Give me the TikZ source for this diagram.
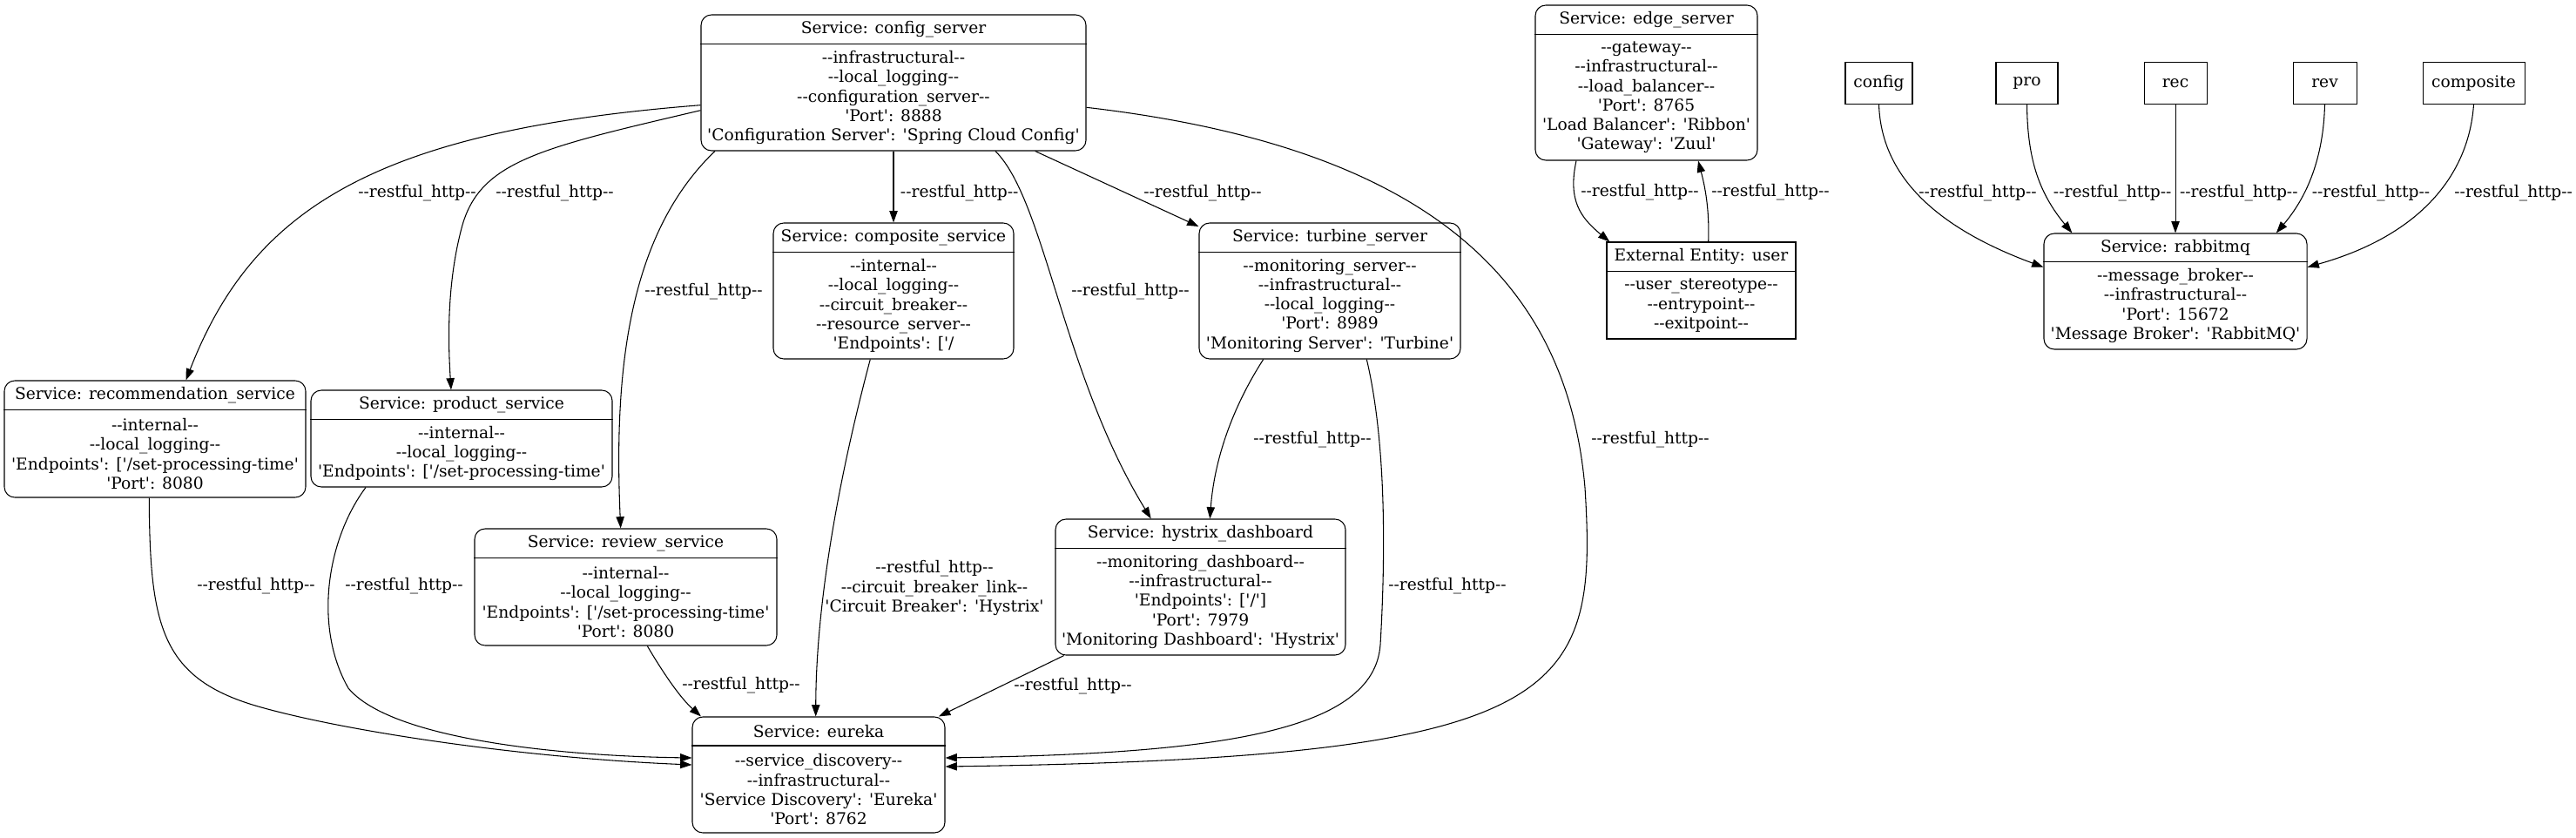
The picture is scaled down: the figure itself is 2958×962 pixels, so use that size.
\documentclass[tikz,border=0pt]{standalone}
\usepackage{fontspec}
\setmainfont{DejaVu Serif}[Ligatures=TeXOff]
\usetikzlibrary{arrows.meta,fit,calc}
\tikzset{
  x=0.75pt, y=-0.75pt,
  txt/.style={inner sep=0pt, font=\fontsize{14}{16.7}\selectfont},
  svc/.style={draw, rounded corners=9pt, inner sep=0pt, line width=0.8pt},
  ent/.style={draw, inner sep=0pt, line width=0.8pt},
  small/.style={ent, txt, minimum height=35.7pt},
  flow/.style={draw, line width=0.8pt, -{Triangle[length=10pt,width=7pt]}},
  lbl/.style={txt, align=center},
}
\newcommand{\dfdbox}[9]{%
  \node[#9, fit={(#2,#3) (#4,#5)}] (#1) {};
  \coordinate (#1s) at (0,#6);
  \draw[line width=0.8pt] (#1.west |- #1s) -- (#1.east |- #1s);
  \node[txt] (#1h) at ($(#1.north)!0.5!(#1.north |- #1s)$) {#7};
  \node[txt, align=center] (#1b) at ($(#1.south)!0.5!(#1.south |- #1s)$) {#8};
}
\begin{document}
\begin{tikzpicture}
\useasboundingbox (0,0) rectangle (2958,962);

\dfdbox{cfg}{805}{17}{1247}{173}{50.7}{Service: config\_server}{--infrastructural--\\--local\_logging--\\--configuration\_server--\\'Port': 8888\\'Configuration Server': 'Spring Cloud Config'}{svc}
\dfdbox{edgesrv}{1763}{6}{2018}{184}{39.3}{Service: edge\_server}{--gateway--\\--infrastructural--\\--load\_balancer--\\'Port': 8765\\'Load Balancer': 'Ribbon'\\'Gateway': 'Zuul'}{svc}
\dfdbox{user}{1845}{278}{2062}{389}{311.7}{External Entity: user}{--user\_stereotype--\\--entrypoint--\\--exitpoint--}{ent}
\dfdbox{rabbit}{2347}{268}{2649}{401}{300.3}{Service: rabbitmq}{--message\_broker--\\--infrastructural--\\'Port': 15672\\'Message Broker': 'RabbitMQ'}{svc}
\dfdbox{rec}{5}{437}{351}{571}{470.7}{Service: recommendation\_service}{--internal--\\--local\_logging--\\'Endpoints': ['/set-processing-time'\\'Port': 8080}{svc}
\dfdbox{prod}{357}{448}{703}{559}{481.7}{Service: product\_service}{--internal--\\--local\_logging--\\'Endpoints': ['/set-processing-time'}{svc}
\dfdbox{comp}{888}{256}{1164}{412}{289.3}{Service: composite\_service}{--internal--\\--local\_logging--\\--circuit\_breaker--\\--resource\_server--\\'Endpoints': ['/}{svc}
\dfdbox{turb}{1377}{256}{1677}{412}{289.3}{Service: turbine\_server}{--monitoring\_server--\\--infrastructural--\\--local\_logging--\\'Port': 8989\\'Monitoring Server': 'Turbine'}{svc}
\dfdbox{rev}{545}{607}{892}{741}{640.7}{Service: review\_service}{--internal--\\--local\_logging--\\'Endpoints': ['/set-processing-time'\\'Port': 8080}{svc}
\dfdbox{hyst}{1212}{596}{1545}{752}{629.3}{Service: hystrix\_dashboard}{--monitoring\_dashboard--\\--infrastructural--\\'Endpoints': ['/']\\'Port': 7979\\'Monitoring Dashboard': 'Hystrix'}{svc}
\dfdbox{eur}{795}{823}{1085}{956}{856}{Service: eureka}{--service\_discovery--\\--infrastructural--\\'Service Discovery': 'Eureka'\\'Port': 8762}{svc}

\node[small, minimum width=57.75pt] (bconfig) at (2157.5,95.5) {config};
\node[small, minimum width=53.25pt] (bpro) at (2327.5,95.5) {pro};
\node[small, minimum width=54pt] (brec) at (2498,95.5) {rec};
\node[small, minimum width=54.75pt] (brev) at (2669.5,95.5) {rev};
\node[small, minimum width=87.75pt] (bcomp) at (2840.5,95.5) {composite};

% connectors from config_server
\draw[flow] (cfg.west |- 0,120.7) .. controls (430,150) and (290,240) .. (rec.north -| 213.5,0);
\draw[flow] (cfg.west |- 0,126.7) .. controls (620,170) and (550,185) .. (530,262) .. controls (512,330) and (515,400) .. (prod.north -| 518,0);
\draw[flow] (cfg.south -| 821,0) .. controls (720,270) and (705,430) .. (rev.north -| 712.7,0);
\draw[flow] (cfg.south -| comp.north) -- (comp.north);
\draw[flow] (cfg.south -| 1143,0) .. controls (1200,230) and (1220,430) .. (hyst.north -| 1321.7,0);
\draw[flow] (cfg.south -| 1188.7,0) -- (turb.west |- 0,260);
\draw[flow] (cfg.east |- 0,123.3) .. controls (1650,170) and (1800,330) .. (1820,560) .. controls (1835,800) and (1800,870) .. (eur.east |- 0,880);

% turbine
\draw[flow] (turb.south -| 1450.7,0) .. controls (1420,460) and (1395,520) .. (hyst.north -| 1389.3,0);
\draw[flow] (turb.south -| 1569.3,0) .. controls (1590,500) and (1592,620) .. (1585,740) .. controls (1578,840) and (1400,865) .. (eur.east |- 0,870);

% into eureka
\draw[flow] (comp.south -| 999.3,0) .. controls (960,560) and (937,700) .. (eur.north -| 936.7,0);
\draw[flow] (rev.south -| 743.3,0) .. controls (760,770) and (780,800) .. (eur.north -| 805,0);
\draw[flow] (hyst.south -| 1221.7,0) -- (eur.north -| 1078,0);
\draw[flow] (rec.south -| 171.3,0) .. controls (172,720) and (185,780) .. (300,812) .. controls (400,840) and (600,870) .. (eur.west |- 0,878);
\draw[flow] (prod.south -| 420,0) .. controls (375,620) and (360,720) .. (400,790) .. controls (450,850) and (650,868) .. (eur.west |- 0,870);

% edge server / user
\draw[flow] (edgesrv.south -| 1810,0) .. controls (1800,230) and (1815,250) .. (user.north -| 1848.3,0);
\draw[flow] (user.north -| 1961.7,0) .. controls (1963,240) and (1958,215) .. (edgesrv.south -| 1950,0);

% rabbitmq
\draw[flow] (bconfig.south) .. controls (2160,200) and (2220,260) .. (rabbit.west |- 0,306.7);
\draw[flow] (bpro.south) .. controls (2328,180) and (2340,220) .. (rabbit.north -| 2379.3,0);
\draw[flow] (brec.south) -- (rabbit.north -| brec.south);
\draw[flow] (brev.south) .. controls (2668,180) and (2650,225) .. (rabbit.north -| 2613.8,0);
\draw[flow] (bcomp.south) .. controls (2835,200) and (2780,270) .. (rabbit.east |- 0,306.7);

% labels
\node[lbl] (l1) at (479,221.7) {--restful\_http--};
\node[lbl] (l2) at (637,221.7) {--restful\_http--};
\node[lbl] (l3) at (808,335) {--restful\_http--};
\node[lbl] (l4) at (1101.7,221.7) {--restful\_http--};
\node[lbl] (l5) at (1298,335) {--restful\_http--};
\node[lbl] (l6) at (1381,221.7) {--restful\_http--};
\node[lbl] (l7) at (1895,505) {--restful\_http--};
\node[lbl] (l8) at (1507,505) {--restful\_http--};
\node[lbl] (l9) at (1662,673) {--restful\_http--};
\node[lbl] (l10) at (1073,675) {--restful\_http--\\--circuit\_breaker\_link--\\'Circuit Breaker': 'Hystrix'};
\node[lbl] (l11) at (851,787) {--restful\_http--};
\node[lbl] (l12) at (1232,788) {--restful\_http--};
\node[lbl] (l13) at (294,673) {--restful\_http--};
\node[lbl] (l14) at (464,673) {--restful\_http--};
\node[lbl] (l15) at (1883,221) {--restful\_http--};
\node[lbl] (l16) at (2033,221) {--restful\_http--};
\node[lbl] (l17) at (2271,221.7) {--restful\_http--};
\node[lbl] (l18) at (2425.7,221.7) {--restful\_http--};
\node[lbl] (l19) at (2570.8,221.7) {--restful\_http--};
\node[lbl] (l20) at (2722.5,221.7) {--restful\_http--};
\node[lbl] (l21) at (2886.1,221.7) {--restful\_http--};
\end{tikzpicture}
\end{document}
